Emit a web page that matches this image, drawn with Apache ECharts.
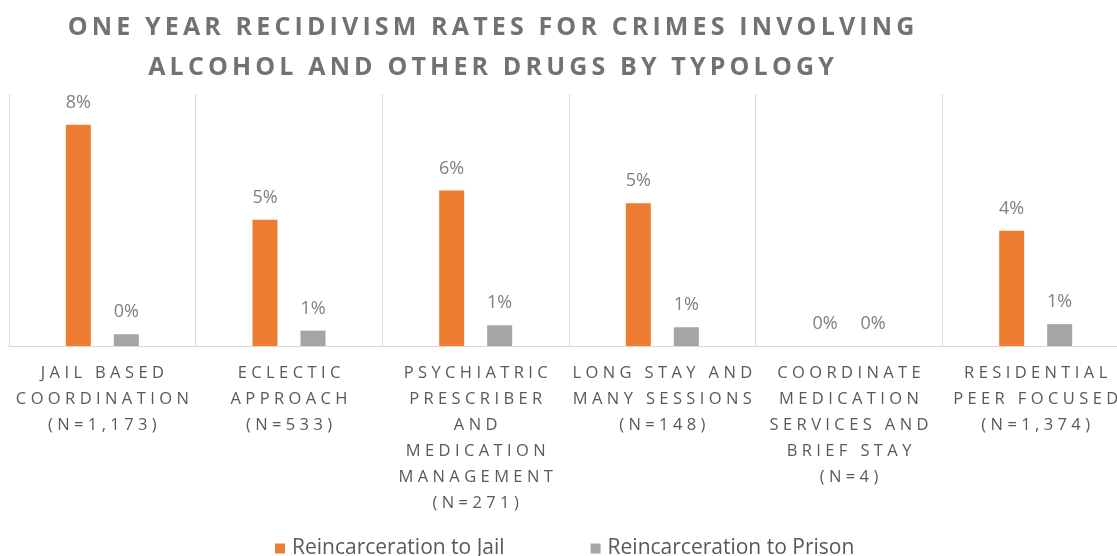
<!DOCTYPE html>
<html>
<head>
<meta charset="utf-8">
<script src="https://cdn.jsdelivr.net/npm/echarts@6/dist/echarts.min.js"></script>
<style>
  html, body { margin: 0; padding: 0; background: #ffffff; overflow: hidden; }
  /* the plot runs a little past the right edge of the window */
  #chart { width: 1130px; height: 556px; }
</style>
</head>
<body>
<div id="chart"></div>
<script>
// Program typologies (axis categories)
const categories = [
  'JAIL BASED\nCOORDINATION\n(N=1,173)',
  'ECLECTIC\nAPPROACH\n(N=533)',
  'PSYCHIATRIC\nPRESCRIBER\nAND\nMEDICATION\nMANAGEMENT\n(N=271)',
  'LONG STAY AND\nMANY SESSIONS\n(N=148)',
  'COORDINATE\nMEDICATION\nSERVICES AND\nBRIEF STAY\n(N=4)',
  'RESIDENTIAL\nPEER FOCUSED\n(N=1,374)'
];

// One-year recidivism rates (fractions)
const jailRates   = [0.079, 0.0451, 0.0555, 0.051, 0, 0.0412];
const prisonRates = [0.0042, 0.0055, 0.0074, 0.0067, 0, 0.0078];

const seriesNames = ['Reincarceration to Jail', 'Reincarceration to Prison'];

const titleText = 'ONE YEAR RECIDIVISM RATES FOR CRIMES INVOLVING\nALCOHOL AND OTHER DRUGS BY TYPOLOGY';

// widen text by putting a thin gap between characters
function spaced(s, gap) {
  return s.split('\n').map(line => Array.from(line).join(gap)).join('\n');
}

const pct = p => Math.round(p.value * 100) + '%';

const chart = echarts.init(document.getElementById('chart'));

const valueLabel = {
  show: true,
  position: 'top',
  distance: 13,
  formatter: pct,
  color: '#808080',
  fontFamily: 'Open Sans',
  fontSize: 18
};

chart.setOption({
  backgroundColor: '#ffffff',
  animation: false,
  title: {
    text: spaced(titleText, '\u2009'),
    left: 486,
    top: 3,
    textAlign: 'center',
    textStyle: {
      fontFamily: 'Open Sans',
      fontSize: 25,
      fontWeight: 'bold',
      lineHeight: 40,
      color: '#767171'
    }
  },
  legend: {
    data: seriesNames,
    left: 275,
    top: 538,
    padding: 0,
    icon: 'rect',
    itemWidth: 10,
    itemHeight: 10,
    itemGap: 86,
    textStyle: {
      fontFamily: 'Open Sans',
      fontSize: 21,
      color: '#595959',
      padding: [0, 0, 0, 2]
    }
  },
  grid: {
    left: 9,
    right: 1,
    top: 94,
    height: 252,
    containLabel: false
  },
  xAxis: {
    type: 'category',
    data: categories,
    axisLine: { lineStyle: { color: '#d9d9d9', width: 1 } },
    axisTick: { show: false },
    splitLine: { show: true, lineStyle: { color: '#d9d9d9', width: 1 } },
    axisLabel: {
      interval: 0,
      margin: 14,
      color: '#595959',
      fontFamily: 'Open Sans',
      fontSize: 16.5,
      lineHeight: 26,
      formatter: v => spaced(v, '\u2009\u200A')
    }
  },
  yAxis: {
    type: 'value',
    min: 0,
    max: 0.09,
    show: false,
    splitLine: { show: false }
  },
  series: [
    {
      name: seriesNames[0],
      type: 'bar',
      data: jailRates,
      barWidth: 25,
      barGap: '92%',
      itemStyle: { color: '#ED7D31' },
      label: valueLabel
    },
    {
      name: seriesNames[1],
      type: 'bar',
      data: prisonRates,
      barWidth: 25,
      barGap: '92%',
      itemStyle: { color: '#A5A5A5' },
      label: valueLabel
    }
  ]
});
</script>
</body>
</html>
